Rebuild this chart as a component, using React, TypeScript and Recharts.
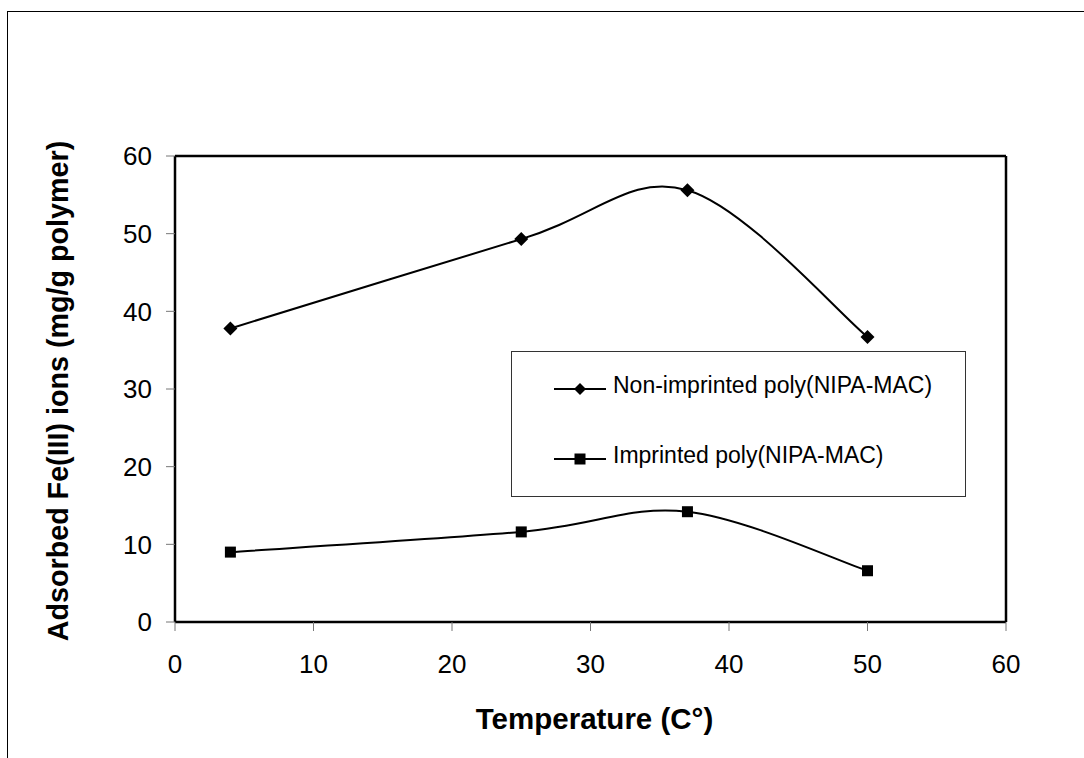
import { LineChart, Line, XAxis, YAxis, Legend, ReferenceLine } from 'recharts'

const temperature = [4, 25, 37, 50]
const nonImprinted = [37.8, 49.3, 55.6, 36.7]
const imprinted = [9.0, 11.6, 14.2, 6.6]
const axisTicks = [0, 10, 20, 30, 40, 50, 60]

const data = temperature.map((t, i) => ({
  t,
  nonImprinted: nonImprinted[i],
  imprinted: imprinted[i],
}))

const FONT = '"Liberation Sans", Arial, sans-serif'

// Excel-style smoothed line (Catmull-Rom as cubic Bezier)
function excelSmooth(context: any) {
  let pts: [number, number][] = []
  return {
    areaStart() {},
    areaEnd() {},
    lineStart() {
      pts = []
    },
    point(x: number, y: number) {
      pts.push([+x, +y])
    },
    lineEnd() {
      if (!pts.length) return
      context.moveTo(pts[0][0], pts[0][1])
      for (let i = 0; i < pts.length - 1; i++) {
        const p0 = pts[i - 1] || pts[i]
        const p1 = pts[i]
        const p2 = pts[i + 1]
        const p3 = pts[i + 2] || pts[i + 1]
        context.bezierCurveTo(
          p1[0] + (p2[0] - p0[0]) / 6,
          p1[1] + (p2[1] - p0[1]) / 6,
          p2[0] - (p3[0] - p1[0]) / 6,
          p2[1] - (p3[1] - p1[1]) / 6,
          p2[0],
          p2[1]
        )
      }
    },
  }
}

function Diamond({ cx, cy, size = 7 }: { cx?: number; cy?: number; size?: number }) {
  if (cx == null || cy == null) return null
  return (
    <path
      d={`M${cx},${cy - size}L${cx + size},${cy}L${cx},${cy + size}L${cx - size},${cy}Z`}
      fill="#000"
    />
  )
}

function Square({ cx, cy, size = 5.5 }: { cx?: number; cy?: number; size?: number }) {
  if (cx == null || cy == null) return null
  return <rect x={cx - size} y={cy - size} width={size * 2} height={size * 2} fill="#000" />
}

const legendItems = [
  { name: 'Non-imprinted poly(NIPA-MAC)', marker: 'diamond' },
  { name: 'Imprinted poly(NIPA-MAC)', marker: 'square' },
]

function ChartLegend() {
  return (
    <div style={{ position: 'relative', width: '100%', height: '100%' }}>
      {legendItems.map((item, i) => (
        <div
          key={item.name}
          style={{
            position: 'absolute',
            left: 41,
            top: 37 + i * 70 - 15,
            height: 30,
            display: 'flex',
            alignItems: 'center',
            whiteSpace: 'nowrap',
          }}
        >
          <svg width={56} height={30} style={{ display: 'block' }}>
            <line x1={1} y1={15} x2={53} y2={15} stroke="#000" strokeWidth={2} />
            {item.marker === 'diamond' ? (
              <Diamond cx={27} cy={15} size={6} />
            ) : (
              <Square cx={27} cy={15} size={5.5} />
            )}
          </svg>
          <span style={{ fontSize: 23, color: '#000', marginLeft: 4, marginTop: -8, fontFamily: FONT }}>
            {item.name}
          </span>
        </div>
      ))}
    </div>
  )
}

function YTitle(props: any) {
  const vb = props.viewBox || {}
  const x = vb.x + 23
  const y = vb.y + vb.height / 2 + 2
  return (
    <text
      x={x}
      y={y}
      transform={`rotate(-90, ${x}, ${y})`}
      textAnchor="middle"
      dominantBaseline="central"
      fontSize={28.7}
      fontWeight="bold"
      fontFamily={FONT}
      fill="#000"
    >
      Adsorbed Fe(III) ions (mg/g polymer)
    </text>
  )
}

function XTitle(props: any) {
  const vb = props.viewBox || {}
  const x = vb.x + vb.width / 2 + 4
  const y = vb.y + vb.height + 57
  return (
    <text
      x={x}
      y={y}
      textAnchor="middle"
      fontSize={29.5}
      fontWeight="bold"
      fontFamily={FONT}
      fill="#000"
    >
      Temperature (C°)
    </text>
  )
}

export default function App() {
  return (
    <div style={{ position: 'absolute', left: 0, top: 0, width: 1084, height: 758, background: '#fff', fontFamily: FONT, overflow: 'hidden' }}>
      <div
        style={{
          position: 'absolute',
          left: 7,
          top: 11,
          width: 1200,
          height: 900,
          borderLeft: '1px solid #000',
          borderTop: '1px solid #000',
        }}
      />
      <LineChart
        width={1084}
        height={758}
        data={data}
        margin={{ top: 156, right: 78, left: 35, bottom: 86 }}
        style={{ position: 'absolute', left: 0, top: 0 }}
      >
        <XAxis
          dataKey="t"
          type="number"
          domain={[0, 60]}
          ticks={axisTicks}
          height={50}
          tickSize={9}
          tickMargin={24}
          axisLine={{ stroke: '#000', strokeWidth: 2.5 }}
          tickLine={{ stroke: '#777', strokeWidth: 1 }}
          tick={{ fill: '#000', fontSize: 26, fontFamily: FONT }}
          interval={0}
          label={{ content: XTitle }}
        />
        <YAxis
          type="number"
          domain={[0, 60]}
          ticks={axisTicks}
          width={140}
          tickSize={9}
          tickMargin={14}
          axisLine={{ stroke: '#000', strokeWidth: 2.5 }}
          tickLine={{ stroke: '#777', strokeWidth: 1 }}
          tick={{ fill: '#000', fontSize: 26, fontFamily: FONT }}
          interval={0}
          label={{ content: YTitle }}
        />
        <ReferenceLine y={60} stroke="#000" strokeWidth={2.5} />
        <ReferenceLine x={60} stroke="#000" strokeWidth={2.5} />
        <Legend
          layout="vertical"
          align="center"
          verticalAlign="middle"
          content={() => <ChartLegend />}
          wrapperStyle={{
            left: 511,
            top: 351,
            width: 455,
            height: 146,
            border: '1px solid #333',
            boxSizing: 'border-box',
            background: '#fff',
          }}
        />
        <Line
          dataKey="nonImprinted"
          name="Non-imprinted poly(NIPA-MAC)"
          type={excelSmooth as any}
          stroke="#000"
          strokeWidth={2}
          dot={(p: any) => <Diamond key={`d-${p.index}`} cx={p.cx} cy={p.cy} size={7} />}
          activeDot={false}
          isAnimationActive={false}
        />
        <Line
          dataKey="imprinted"
          name="Imprinted poly(NIPA-MAC)"
          type={excelSmooth as any}
          stroke="#000"
          strokeWidth={2}
          dot={(p: any) => <Square key={`s-${p.index}`} cx={p.cx} cy={p.cy} size={5.5} />}
          activeDot={false}
          isAnimationActive={false}
        />
      </LineChart>
    </div>
  )
}
